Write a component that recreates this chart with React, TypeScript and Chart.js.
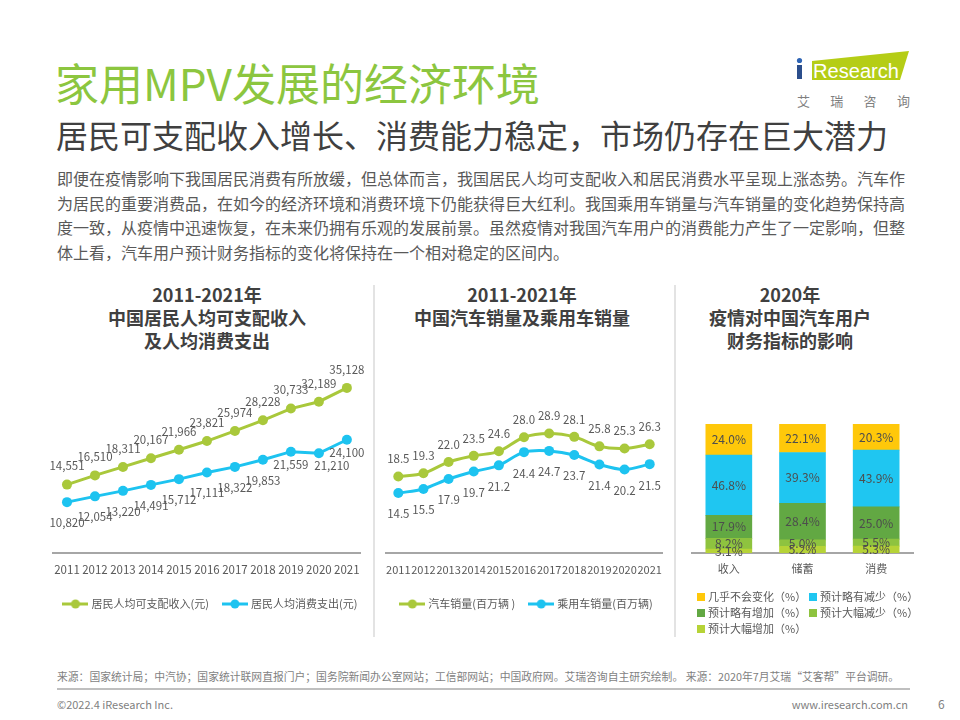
import React, { useEffect, useRef } from "react";
import { Chart, registerables } from "chart.js";

Chart.register(...registerables);

const FONT = '"Noto Sans CJK SC", "Noto Sans", sans-serif';
Chart.defaults.font.family = FONT;

// ---------- data ----------
const YEARS = ["2011", "2012", "2013", "2014", "2015", "2016", "2017", "2018", "2019", "2020", "2021"];
const INCOME = [14551, 16510, 18311, 20167, 21966, 23821, 25974, 28228, 30733, 32189, 35128];
const SPENDING = [10820, 12054, 13220, 14491, 15712, 17111, 18322, 19853, 21559, 21210, 24100];
const AUTO_SALES = [18.5, 19.3, 22.0, 23.5, 24.6, 28.0, 28.9, 28.1, 25.8, 25.3, 26.3];
const PASSENGER_SALES = [14.5, 15.5, 17.9, 19.7, 21.2, 24.4, 24.7, 23.7, 21.4, 20.2, 21.5];

const FIN_CATEGORIES = ["收入", "储蓄", "消费"];
const BIG_INCREASE = [3.1, 5.2, 5.3];
const BIG_DECREASE = [8.2, 5.0, 5.5];
const SLIGHT_INCREASE = [17.9, 28.4, 25.0];
const SLIGHT_DECREASE = [46.8, 39.3, 43.9];
const NO_CHANGE = [24.0, 22.1, 20.3];

// ---------- colours ----------
const GREEN = "#A9C83B";
const BLUE = "#1DC3F0";
const C_NO_CHANGE = "#FFC80A";
const C_SLIGHT_DEC = "#1FC6F1";
const C_SLIGHT_INC = "#62A843";
const C_BIG_DEC = "#8EC33F";
const C_BIG_INC = "#B6D337";
const TEXT_GRAY = "#595959";

function lineMarker(color: string) {
  const c = document.createElement("canvas");
  c.width = 26;
  c.height = 12;
  const g = c.getContext("2d")!;
  g.strokeStyle = color;
  g.lineWidth = 3;
  g.beginPath();
  g.moveTo(0, 6);
  g.lineTo(26, 6);
  g.stroke();
  g.fillStyle = color;
  g.beginPath();
  g.arc(13, 6, 4.5, 0, Math.PI * 2);
  g.fill();
  return c;
}

function labelPlugin(
  format: (v: number) => string,
  place: (el: any, di: number, i: number) => { x: number; y: number },
  font: string,
  color: string
) {
  return {
    id: "valueLabels",
    afterDatasetsDraw(chart: any) {
      const ctx = chart.ctx;
      ctx.save();
      ctx.font = font;
      ctx.fillStyle = color;
      ctx.textAlign = "center";
      ctx.textBaseline = "middle";
      chart.data.datasets.forEach((ds: any, di: number) => {
        const meta = chart.getDatasetMeta(di);
        meta.data.forEach((el: any, i: number) => {
          const p = place(el, di, i);
          ctx.fillText(format(ds.data[i] as number), p.x, p.y);
        });
      });
      ctx.restore();
    },
  };
}

// legend drawn in one centred row below the x axis, using line+dot markers
function rowLegend(colors: string[], offsetY: number, shiftX: number) {
  const markers = colors.map(lineMarker);
  return {
    id: "rowLegend",
    afterDraw(chart: any) {
      const ctx = chart.ctx;
      ctx.save();
      ctx.font = '11px "Noto Sans CJK SC"';
      ctx.textBaseline = "middle";
      ctx.textAlign = "left";
      const items = chart.data.datasets.map((d: any, i: number) => ({
        text: d.label,
        marker: markers[i],
        w: 29 + ctx.measureText(d.label).width,
      }));
      const gap = 13;
      const total = items.reduce((s: number, it: any) => s + it.w, 0) + gap * (items.length - 1);
      let x = (chart.chartArea.left + chart.chartArea.right) / 2 - total / 2 + shiftX;
      const y = chart.chartArea.bottom + offsetY;
      items.forEach((it: any) => {
        ctx.drawImage(it.marker, x, y - 6);
        ctx.fillStyle = TEXT_GRAY;
        ctx.fillText(it.text, x + 29, y);
        x += it.w + gap;
      });
      ctx.restore();
    },
  };
}

function lineConfig(
  labels: string[],
  series: { label: string; data: number[]; color: string }[],
  yMax: number,
  pad: { left: number; right: number; top: number; bottom: number },
  tickSize: number,
  tension: number,
  plugins: any[]
) {
  return {
    type: "line",
    data: {
      labels,
      datasets: series.map((s) => ({
        label: s.label,
        data: s.data,
        borderColor: s.color,
        backgroundColor: s.color,
        pointBackgroundColor: s.color,
        pointBorderWidth: 0,
        pointRadius: 5,
        borderWidth: 3,
        tension,
      })),
    },
    options: {
      animation: false,
      responsive: false,
      devicePixelRatio: 1,
      layout: { padding: pad },
      plugins: { tooltip: { enabled: false }, legend: { display: false } },
      scales: {
        x: {
          offset: true,
          grid: { display: false, drawTicks: false },
          border: { display: true, color: "#A6A6A6", width: 2 },
          ticks: { color: TEXT_GRAY, font: { size: tickSize }, padding: 10, maxRotation: 0, minRotation: 0, autoSkip: false },
        },
        y: { display: false, min: 0, max: yMax },
      },
    },
    plugins,
  };
}

function ChartBox(props: { make: () => any; left: number; top: number; width: number; height: number }) {
  const ref = useRef<HTMLCanvasElement>(null);
  useEffect(() => {
    const chart = new Chart(ref.current!, props.make());
    return () => chart.destroy();
  }, []);
  return (
    <div style={{ position: "absolute", left: props.left, top: props.top, width: props.width, height: props.height }}>
      <canvas ref={ref} width={props.width} height={props.height} style={{ width: props.width, height: props.height, display: "block" }} />
    </div>
  );
}

const makeIncomeChart = () =>
  lineConfig(
    YEARS,
    [
      { label: "居民人均可支配收入(元)", data: INCOME, color: GREEN },
      { label: "居民人均消费支出(元)", data: SPENDING, color: BLUE },
    ],
    40000,
    { left: 11, right: 8, top: 25, bottom: 33.2 },
    11.5,
    0,
    [
      labelPlugin(
        (v) => v.toLocaleString("en-US"),
        (el, di, i) =>
          di === 0
            ? { x: el.x, y: el.y - 18.5 }
            : { x: el.x + (i === 9 ? 13 : 0), y: el.y + (i >= 8 ? 12.5 : 20.5) },
        '11.5px "Noto Sans CJK SC"',
        TEXT_GRAY
      ),
      rowLegend([GREEN, BLUE], 51, 3),
    ]
  );

const makeSalesChart = () =>
  lineConfig(
    YEARS,
    [
      { label: "汽车销量(百万辆 )", data: AUTO_SALES, color: GREEN },
      { label: "乘用车销量(百万辆)", data: PASSENGER_SALES, color: BLUE },
    ],
    45,
    { left: 5, right: 7, top: 27, bottom: 33.8 },
    11,
    0.35,
    [
      labelPlugin(
        (v) => v.toFixed(1),
        (el, di) => (di === 0 ? { x: el.x, y: el.y - 17.5 } : { x: el.x, y: el.y + 21 }),
        '11.5px "Noto Sans CJK SC"',
        TEXT_GRAY
      ),
      rowLegend([GREEN, BLUE], 51, 2),
    ]
  );

const gridLegend = {
  id: "gridLegend",
  afterDraw(chart: any) {
    const ctx = chart.ctx;
    const items = chart.data.datasets
      .map((d: any) => ({ text: d.label, color: d.backgroundColor }))
      .reverse();
    const x0 = chart.chartArea.left + 5;
    const y0 = chart.chartArea.bottom + 44;
    ctx.save();
    ctx.font = '11px "Noto Sans CJK SC"';
    ctx.textBaseline = "middle";
    ctx.textAlign = "left";
    items.forEach((it: any, k: number) => {
      const x = x0 + (k % 2) * 112;
      const y = y0 + Math.floor(k / 2) * 16;
      ctx.fillStyle = it.color;
      ctx.fillRect(x, y - 4, 8, 8);
      ctx.fillStyle = TEXT_GRAY;
      ctx.fillText(it.text, x + 11, y);
    });
    ctx.restore();
  },
};

const makeFinanceChart = () => ({
  type: "bar",
  data: {
    labels: FIN_CATEGORIES,
    datasets: [
      { label: "预计大幅增加（%）", data: BIG_INCREASE, backgroundColor: C_BIG_INC },
      { label: "预计大幅减少（%）", data: BIG_DECREASE, backgroundColor: C_BIG_DEC },
      { label: "预计略有增加（%）", data: SLIGHT_INCREASE, backgroundColor: C_SLIGHT_INC },
      { label: "预计略有减少（%）", data: SLIGHT_DECREASE, backgroundColor: C_SLIGHT_DEC },
      { label: "几乎不会变化（%）", data: NO_CHANGE, backgroundColor: C_NO_CHANGE },
    ].map((d) => ({ ...d, borderWidth: 0, barThickness: 46 })),
  },
  options: {
    animation: false,
    responsive: false,
    devicePixelRatio: 1,
    layout: { padding: { left: 12, right: 7, top: 24, bottom: 60.8 } },
    plugins: { legend: { display: false }, tooltip: { enabled: false } },
    scales: {
      x: {
        stacked: true,
        grid: { display: false, drawTicks: false },
        border: { display: true, color: "#A6A6A6", width: 2 },
        ticks: { color: TEXT_GRAY, font: { size: 11 }, padding: 9 },
      },
      y: { display: false, stacked: true, min: 0, max: 100 },
    },
  },
  plugins: [
    labelPlugin(
      (v) => v.toFixed(1) + "%",
      (el) => {
        const p = el.getProps(["x", "y", "base"], true);
        return { x: p.x, y: (p.y + p.base) / 2 };
      },
      '12px "Noto Sans CJK SC"',
      "#4D4D4D"
    ),
    gridLegend,
  ],
});

const abs = (left: number, top: number, extra: React.CSSProperties = {}): React.CSSProperties => ({
  position: "absolute",
  left,
  top,
  whiteSpace: "nowrap",
  ...extra,
});

const chartTitle: React.CSSProperties = {
  fontSize: 18,
  fontWeight: 700,
  lineHeight: "23px",
  color: "#404040",
  textAlign: "center",
  width: 320,
};

export default function App() {
  return (
    <div
      style={{
        position: "absolute",
        left: 0,
        top: 0,
        width: 960,
        height: 720,
        overflow: "hidden",
        background: "#fff",
        fontFamily: FONT,
      }}
    >
      <div style={abs(55, 56, { fontSize: 44, lineHeight: "52px", color: "#8CC63F" })}>家用MPV发展的经济环境</div>
      <div style={abs(56, 114, { fontSize: 32, lineHeight: "40px", color: "#404040" })}>
        居民可支配收入增长、消费能力稳定，市场仍存在巨大潜力
      </div>
      <div style={abs(57, 166, { fontSize: 16, lineHeight: "24.5px", color: TEXT_GRAY })}>
        即便在疫情影响下我国居民消费有所放缓，但总体而言，我国居民人均可支配收入和居民消费水平呈现上涨态势。汽车作
        <br />
        为居民的重要消费品，在如今的经济环境和消费环境下仍能获得巨大红利。我国乘用车销量与汽车销量的变化趋势保持高
        <br />
        度一致，从疫情中迅速恢复，在未来仍拥有乐观的发展前景。虽然疫情对我国汽车用户的消费能力产生了一定影响，但整
        <br />
        体上看，汽车用户预计财务指标的变化将保持在一个相对稳定的区间内。
      </div>

      {/* logo */}
      <svg style={{ position: "absolute", left: 0, top: 0 }} width={960} height={120}>
        <polygon points="812,61 909,51 900,80 812,80" fill="#B5CD16" />
        <rect x={797} y={65} width={5} height={14} fill="#2B4E8C" />
        <circle cx={799.5} cy={60.5} r={2.6} fill="#2E64B5" />
        <text x={813} y={78} fill="#fff" fontSize={20} fontFamily='"Liberation Sans", sans-serif' textLength={86} lengthAdjust="spacingAndGlyphs">
          Research
        </text>
      </svg>
      <div style={abs(797, 92, { fontSize: 13, lineHeight: "18px", color: "#7F7F7F", letterSpacing: 20.3 })}>艾瑞咨询</div>

      {/* chart titles */}
      <div style={abs(47, 283, chartTitle)}>
        2011-2021年
        <br />
        中国居民人均可支配收入
        <br />
        及人均消费支出
      </div>
      <div style={abs(362, 283, chartTitle)}>
        2011-2021年
        <br />
        中国汽车销量及乘用车销量
      </div>
      <div style={abs(630, 283, chartTitle)}>
        2020年
        <br />
        疫情对中国汽车用户
        <br />
        财务指标的影响
      </div>

      {/* separators */}
      <div style={{ position: "absolute", left: 373, top: 285, width: 2, height: 352, background: "#E3E3E3" }} />
      <div style={{ position: "absolute", left: 674, top: 285, width: 2, height: 352, background: "#E3E3E3" }} />

      <ChartBox make={makeIncomeChart} left={42} top={340} width={328} height={280} />
      <ChartBox make={makeSalesChart} left={376} top={340} width={296} height={280} />
      <ChartBox make={makeFinanceChart} left={680} top={400} width={240} height={245} />

      {/* footer */}
      <div style={abs(57, 669, { fontSize: 10.8, lineHeight: "14px", color: "#7F7F7F" })}>
        来源：国家统计局；中汽协；国家统计联网直报门户；国务院新闻办公室网站；工信部网站；中国政府网。艾瑞咨询自主研究绘制。 来源：2020年7月艾瑞“艾客帮”平台调研。
      </div>
      <div style={{ position: "absolute", left: 57, top: 688, width: 853, height: 2, background: "#BFBFBF" }} />
      <div style={abs(57, 697, { fontSize: 11, lineHeight: "14px", color: "#7F7F7F" })}>©2022.4 iResearch Inc.</div>
      <div style={abs(790, 697, { fontSize: 11, lineHeight: "14px", color: "#7F7F7F", width: 118, textAlign: "right" })}>
        www.iresearch.com.cn
      </div>
      <div style={abs(938, 696, { fontSize: 12, lineHeight: "16px", color: "#7F7F7F" })}>6</div>
    </div>
  );
}
